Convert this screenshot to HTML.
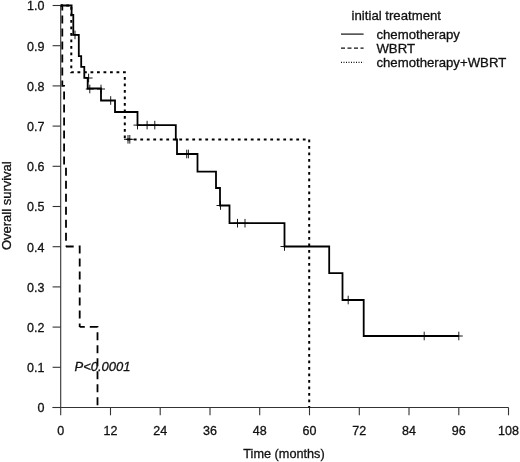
<!DOCTYPE html>
<html><head><meta charset="utf-8"><title>Overall survival</title>
<style>
html,body{margin:0;padding:0;background:#fff;}
body{width:520px;height:462px;overflow:hidden;}
svg{display:block;}
text{font-family:"Liberation Sans",Arial,Helvetica,sans-serif;fill:#111;stroke:#111;stroke-width:0.3px;}
.t{font-size:12.5px;}
.l{font-size:13.2px;}
.m{font-size:13px;}
</style></head><body>
<svg width="520" height="462" viewBox="0 0 520 462">
<rect width="520" height="462" fill="#fff"/>
<g stroke="#333" stroke-width="1.1" fill="none">
<path d="M60.7,5.5 V407.5"/>
<path d="M52.6,407.5 H508.6"/>
<path d="M52.6,407.5 H60.7"/>
<path d="M52.6,367.3 H60.7"/>
<path d="M52.6,327.1 H60.7"/>
<path d="M52.6,286.9 H60.7"/>
<path d="M52.6,246.7 H60.7"/>
<path d="M52.6,206.5 H60.7"/>
<path d="M52.6,166.3 H60.7"/>
<path d="M52.6,126.1 H60.7"/>
<path d="M52.6,85.9 H60.7"/>
<path d="M52.6,45.7 H60.7"/>
<path d="M52.6,5.5 H60.7"/>
<path d="M60.7,407.5 V415.3"/>
<path d="M110.5,407.5 V415.3"/>
<path d="M160.2,407.5 V415.3"/>
<path d="M210.0,407.5 V415.3"/>
<path d="M259.7,407.5 V415.3"/>
<path d="M309.5,407.5 V415.3"/>
<path d="M359.3,407.5 V415.3"/>
<path d="M409.0,407.5 V415.3"/>
<path d="M458.8,407.5 V415.3"/>
<path d="M508.5,407.5 V415.3"/>
</g>
<text class="t" x="44.5" y="412.4" text-anchor="end">0</text>
<text class="t" x="44.5" y="372.2" text-anchor="end">0.1</text>
<text class="t" x="44.5" y="332.0" text-anchor="end">0.2</text>
<text class="t" x="44.5" y="291.8" text-anchor="end">0.3</text>
<text class="t" x="44.5" y="251.6" text-anchor="end">0.4</text>
<text class="t" x="44.5" y="211.4" text-anchor="end">0.5</text>
<text class="t" x="44.5" y="171.2" text-anchor="end">0.6</text>
<text class="t" x="44.5" y="131.0" text-anchor="end">0.7</text>
<text class="t" x="44.5" y="90.8" text-anchor="end">0.8</text>
<text class="t" x="44.5" y="50.6" text-anchor="end">0.9</text>
<text class="t" x="44.5" y="10.4" text-anchor="end">1.0</text>
<text class="t" x="60.7" y="434.5" text-anchor="middle">0</text>
<text class="t" x="110.5" y="434.5" text-anchor="middle">12</text>
<text class="t" x="160.2" y="434.5" text-anchor="middle">24</text>
<text class="t" x="210.0" y="434.5" text-anchor="middle">36</text>
<text class="t" x="259.7" y="434.5" text-anchor="middle">48</text>
<text class="t" x="309.5" y="434.5" text-anchor="middle">60</text>
<text class="t" x="359.3" y="434.5" text-anchor="middle">72</text>
<text class="t" x="409.0" y="434.5" text-anchor="middle">84</text>
<text class="t" x="458.8" y="434.5" text-anchor="middle">96</text>
<text class="t" x="508.5" y="434.5" text-anchor="middle">108</text>
<text class="t" style="font-size:12.7px" x="284" y="458" text-anchor="middle">Time (months)</text>
<text class="m" transform="translate(11.3,205.7) rotate(-90)" text-anchor="middle">Overall survival</text>
<text class="l" x="351.6" y="20">initial treatment</text>
<text class="l" x="376.4" y="39">chemotherapy</text>
<text class="l" x="376.4" y="52.7">WBRT</text>
<text class="l" x="376.4" y="66.9">chemotherapy+WBRT</text>
<g stroke="#111" stroke-width="1.2" fill="none">
<path d="M341,34.1 H363.6"/>
<path d="M341,48.2 H363.6" stroke-dasharray="4 2.5"/>
<path d="M341,62.4 H363.6" stroke-dasharray="1 1.5"/>
</g>
<path d="M60.7,5.5 H71.3 V72.2 H124.8 V139.4 H309.2 V407.5" stroke="#000" stroke-width="2" fill="none" stroke-dasharray="2.8 3.7" stroke-dashoffset="1"/>
<path d="M60.7,5.5 H62.3 V85.9 H64.1 V166.3 H66 V246.5" stroke="#000" stroke-width="1.8" fill="none" stroke-dasharray="8 5" stroke-dashoffset="1.5"/>
<path d="M66,246.5 H79.7 V326.9" stroke="#000" stroke-width="1.8" fill="none" stroke-dasharray="8 5" stroke-dashoffset="0.3"/>
<path d="M79.7,326.9 H97.5 V407.5" stroke="#000" stroke-width="1.8" fill="none" stroke-dasharray="8 5" stroke-dashoffset="2.9"/>
<path d="M60.7,5.5 H71.6 V14.8 H73.3 V34.9 H78.8 V56.2 H81.2 V66.9 H84.3 V77.9 H87.7 V88.5 H101 V100.5 H115 V112 H137.5 V125.1 H175.8 V139.5 H177 V154 H197.5 V171.7 H216 V188 H220 V205.5 H229.5 V223.2 H284.5 V246.5 H329.2 V273.2 H342.5 V300 H363.7 V336 H458.8" stroke="#000" stroke-width="1.8" fill="none" stroke-linejoin="miter"/>
<g stroke="#000" stroke-width="0.9" fill="none">
<path d="M75,30.599999999999998 V39.199999999999996 M71,34.9 H79"/>
<path d="M88.6,73.7 V82.3 M84.6,78 H92.6"/>
<path d="M89.8,84.7 V93.3 M85.8,89 H93.8"/>
<path d="M101,84.7 V93.3 M97,89 H105"/>
<path d="M110.7,96.2 V104.8 M106.7,100.5 H114.7"/>
<path d="M137.5,120.8 V129.4 M133.5,125.1 H141.5"/>
<path d="M147.1,120.8 V129.4 M143.1,125.1 H151.1"/>
<path d="M154.8,120.8 V129.4 M150.8,125.1 H158.8"/>
<path d="M186.7,149.7 V158.3 M182.7,154 H190.7"/>
<path d="M188.4,149.7 V158.3 M184.4,154 H192.4"/>
<path d="M220.5,201.2 V209.8 M216.5,205.5 H224.5"/>
<path d="M237.5,218.89999999999998 V227.5 M233.5,223.2 H241.5"/>
<path d="M245,218.89999999999998 V227.5 M241,223.2 H249"/>
<path d="M284.5,242.2 V250.8 M280.5,246.5 H288.5"/>
<path d="M348.2,295.7 V304.3 M344.2,300 H352.2"/>
<path d="M424.2,331.7 V340.3 M420.2,336 H428.2"/>
<path d="M458.8,331.7 V340.3 M454.8,336 H462.8"/>
<path d="M128,135.0 V143.60000000000002 M124,139.3 H132"/>
<path d="M129.8,135.0 V143.60000000000002 M125.80000000000001,139.3 H133.8"/>
</g>
<text class="m" x="74.5" y="370.9" font-style="italic">P&lt;0.0001</text>
</svg></body></html>
